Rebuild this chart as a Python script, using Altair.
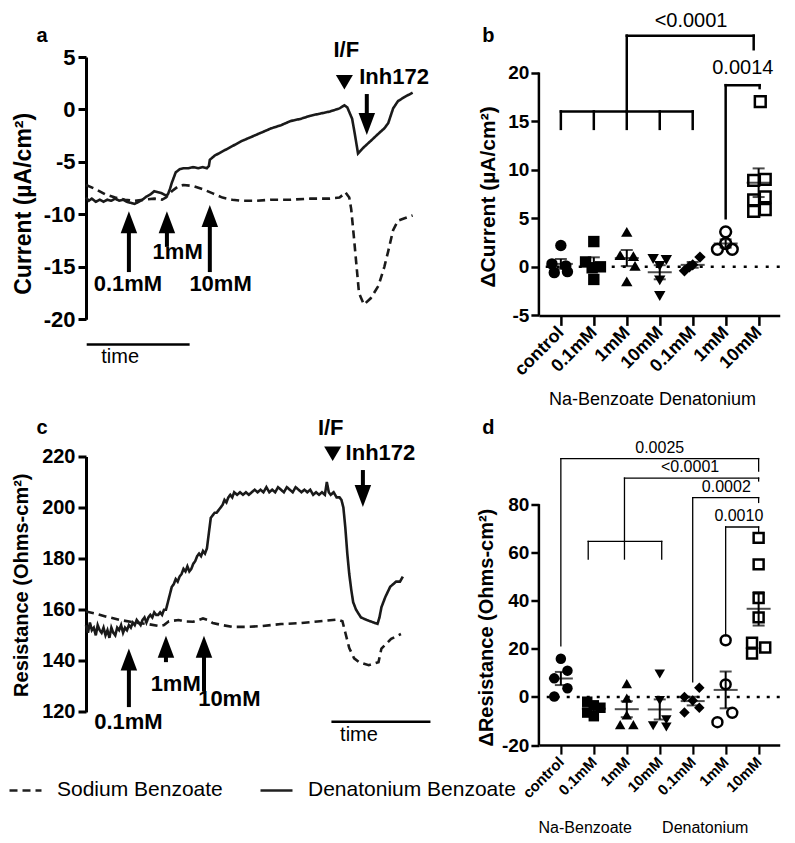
import json
import altair as alt
import pandas as pd

S = 0.975
FONT = "Liberation Sans"

series_names = ["Sodium Benzoate", "Denatonium Benzoate"]

# ---------------- panel a : current traces (time units, µA/cm²)
a_den = [(0,-8.4),(3,-8.7),(6,-8.5),(10,-8.8),(14,-8.6),(18,-8.8),(22,-8.6),(26,-8.7),(30,-8.5),(34,-8.7),
         (38,-8.6),(42,-8.8),(46,-8.9),(50,-9.0),(54,-8.8),(58,-8.6),(62,-8.3),(66,-8.1),(70,-7.8),(74,-7.9),
         (78,-8.0),(82,-8.2),(84,-8.1),(86,-7.6),(88,-7.0),(92,-6.0),(96,-5.7),(100,-5.6),(105,-5.6),(110,-5.5),
         (115,-5.6),(120,-5.5),(124,-5.6),(126,-5.4),(127,-4.8),(132,-4.4),(140,-4.0),(150,-3.5),(160,-3.0),(170,-2.6),
         (180,-2.2),(190,-1.8),(200,-1.5),(210,-1.1),(220,-0.9),(230,-0.6),(240,-0.4),(250,-0.2),(260,0.1),(265,0.4),
         (268,0.2),(273,-0.9),(276,-2.5),(279,-4.2),(285,-3.6),(292,-3.0),(300,-2.3),(306,-1.8),(310,-1.3),(315,0.1),
         (320,0.8),(327,1.2),(335,1.6)]
a_na = [(0,-7.2),(10,-7.6),(20,-8.1),(30,-8.4),(40,-8.6),(50,-8.7),(60,-8.6),(70,-8.5),(78,-8.6),(82,-8.4),
        (88,-7.8),(95,-7.3),(100,-7.2),(110,-7.3),(120,-7.6),(130,-8.0),(140,-8.4),(150,-8.6),(160,-8.7),(175,-8.7),
        (190,-8.6),(210,-8.6),(230,-8.5),(250,-8.5),(260,-8.4),(264,-8.1),(266,-7.9),(270,-8.4),(272,-9.5),(275,-12.4),
        (280,-17.5),(285,-18.6),(292,-18.0),(300,-16.8),(306,-15.0),(310,-13.5),(315,-11.5),(320,-10.6),(326,-10.4),(335,-10.1)]

# ---------------- panel c : resistance traces (time units, Ohms-cm²)
c_den = [(0,154),(2,151),(4,155),(6,152),(8,153),(10,150),(12,154),(14,152),(16,151),(18,153),(20,150),(22,152),
         (24,149),(26,153),(28,151),(30,150),(32,153),(34,152),(36,154),(38,151),(40,153),(42,152),(44,154),(46,153),
         (48,155),(50,154),(52,156),(54,155),(56,154),(58,156),(60,157),(62,155),(64,157),(66,158),(68,157),(70,159),
         (72,158),(74,158),(76,159),(78,158),(80,160),(82,160),(84,163),(86,166),(88,169),(90,170),(92,172),(94,171),
         (96,173),(98,174),(100,176),(102,175),(104,177),(106,175),(108,176),(110,178),(112,179),(114,181),(116,182),
         (118,181),(120,183),(122,182),(124,184),(126,190),(128,196),(130,197),(132,198),(134,198),(136,199),(138,200),
         (140,201),(142,203),(144,202),(146,204),(148,205),(150,204),(152,206),(155,205),(158,206),(161,205),(164,206),
         (167,205),(170,206),(173,207),(176,206),(179,207),(182,206),(185,208),(188,206),(191,207),(194,206),(197,208),
         (200,207),(203,206),(206,208),(209,207),(212,206),(215,208),(218,207),(221,206),(224,207),(227,206),(230,207),
         (233,205),(236,206),(239,205),(242,206),(245,205),(247,210),(249,206),(251,205),(254,206),(257,204),(260,204),
         (262,203),(264,200),(266,192),(268,182),(270,174),(272,168),(274,163),(277,160),(282,157),(288,156),(295,155),
         (299,154.5),(301,157),(303,161),(307,165),(312,169),(318,171),(322,171),(325,173)]
c_na = [(0,159.3),(10,158.5),(20,157.4),(35,156),(50,155),(65,154.3),(75,153.6),(80,154),(85,155.5),(95,156),
        (100,155.5),(110,155.3),(120,156.6),(125,156),(130,154.8),(140,154),(150,153.3),(165,153.3),(180,153.6),
        (200,154.4),(220,154.8),(240,155.5),(258,156.2),(263,155.5),(266,151),(270,145),(275,141),(280,139.5),
        (290,138.3),(300,139.5),(303,144.8),(313,148.6),(323,150.5)]

# ---------------- annotations of the traces
dose_labels = ["0.1mM", "1mM", "10mM"]
a_arrow_x = [44, 83, 127]
a_arrow_tail = [-15.5, -13.1, -15.5]
a_arrow_tip = [-9.7, -9.7, -9.1]
a_label_x = [43, 94, 138]
a_label_y = [-16.6, -13.6, -16.6]
c_arrow_x = [44, 82, 121]
c_arrow_tail = [121.9, 139.5, 128.0]
c_arrow_tip = [144.8, 149.8, 149.8]
c_label_x = [43.5, 92, 147]
c_label_y = [116.2, 131.1, 125.0]

# I/F marker, Inh172 arrow, time bar, panel letter
a_if = {"tri": (265, 2.6), "text": (267, 5.65), "inh_text": (316, 3.1), "inh_x": 288, "inh_tail": 1.47, "inh_tip": -2.43,
        "bar": (2, 105, -22.4), "time": (35, -23.6), "letter": (-45, 7.0)}
c_if = {"tri": (253, 221.1), "text": (251, 231.1), "inh_text": (302, 221.5), "inh_x": 284, "inh_tail": 214.7, "inh_tip": 200.2,
        "bar": (253, 352, 116.2), "time": (280, 110.8), "letter": (-45, 231.1)}

# ---------------- panels b and d : scatter groups
cat_labels = ["control", "0.1mM", "1mM", "10mM", "0.1mM", "1mM", "10mM"]
cat_keys = ["control", "na01", "na1", "na10", "den01", "den1", "den10"]
cat_shapes = ["circle", "square", "triangle-up", "triangle-down", "diamond", "circle", "square"]
cat_filled = [True, True, True, True, True, False, False]

b_values = [[2.2, 0.3, 0.1, -0.6, -0.5],
            [2.6, 0.5, 0.0, -0.1, -1.3],
            [3.6, 1.2, 1.1, 0.1, -1.5],
            [0.8, 0.7, 0.1, -1.4, -3.0],
            [1.0, 0.2, 0.0, -0.4],
            [3.6, 2.4, 1.8, 1.8],
            [17.0, 8.9, 9.0, 6.9, 7.2, 5.7, 5.9]]
b_offsets = [[0, -0.27, 0.15, -0.2, 0.2],
             [0, -0.25, 0.2, -0.05, 0],
             [0, -0.2, 0.2, 0.25, 0],
             [-0.2, 0.2, 0, 0, 0],
             [0.22, 0.0, -0.1, -0.25],
             [0, 0, -0.25, 0.2],
             [0.05, -0.15, 0.2, -0.15, 0.2, -0.15, 0.2]]
d_values = [[15.8, 10.9, 7.7, 3.6, 0.2],
            [-2.0, -3.5, -4.5, -6.5, -8.0],
            [5.5, -0.5, -7.5, -11.5, -11.5],
            [9.5, -1.5, -9.5, -12.0, -12.5],
            [3.8, 0.0, -1.5, -4.5, -6.5],
            [23.5, 5.2, -6.6, -10.5],
            [66, 55, 41, 33, 22.5, 20.5, 18]]
d_offsets = [[0, 0.2, -0.2, 0.2, -0.2],
             [-0.2, 0, 0.2, -0.2, 0],
             [0, 0, 0, -0.2, 0.2],
             [0, 0, 0.2, -0.2, 0.2],
             [0.2, -0.25, 0, 0.2, -0.25],
             [0, 0, 0.2, -0.25],
             [0, 0, 0, 0, -0.2, 0.2, -0.2]]

# significance brackets (segments in category / value units)
b_br_x1 = [1, 1, 2, 3, 4, 5, 3, 3, 6.85, 6, 6, 7.03]
b_br_x2 = [5, 1, 2, 3, 4, 5, 3, 6.85, 6.85, 7.03, 6, 7.03]
b_br_y1 = [16.0, 16.0, 16.0, 16.0, 16.0, 16.0, 16.0, 23.8, 23.8, 18.7, 18.7, 18.7]
b_br_y2 = [16.0, 14.2, 14.2, 14.2, 14.2, 14.2, 23.8, 23.8, 22.4, 18.7, 5.0, 18.4]
b_p_text = ["<0.0001", "0.0014"]
b_p_x = [4.95, 6.52]
b_p_y = [25.3, 20.5]

d_br_x1 = [1, 1, 7, 2.93, 7, 2.93, 1.83, 1.83, 2.93, 4.06, 5, 7, 5, 6, 7, 6]
d_br_x2 = [7, 1, 7, 7, 7, 2.93, 4.06, 1.83, 2.93, 4.06, 7, 7, 5, 7, 7, 6]
d_br_y1 = [98.9, 98.9, 98.9, 90.8, 90.8, 90.8, 64.5, 64.5, 64.5, 64.5, 82.7, 82.7, 82.7, 70.5, 70.5, 70.5]
d_br_y2 = [98.9, 21.2, 93.7, 90.8, 89.6, 64.5, 64.5, 57.2, 57.2, 57.2, 82.7, 80.7, 6.2, 70.5, 68.5, 25.3]
d_p_text = ["0.0025", "<0.0001", "0.0002", "0.0010"]
d_p_x = [4.0, 4.92, 6.02, 6.4]
d_p_y = [103.4, 95.3, 87.2, 75.1]
d_group_text = ["Na-Benzoate", "Denatonium"]
d_group_x = [1.74, 5.38]
d_group_y = [-54.5, -54.5]

# ---------------- scales
xs_trace = alt.Scale(domain=[0, 340], nice=False, zero=False)
ys_a = alt.Scale(domain=[-20, 5], nice=False, zero=False)
ys_c = alt.Scale(domain=[120, 220], nice=False, zero=False)
xs_cat = alt.Scale(domain=[0.334, 7.64], nice=False, zero=False)
ys_b = alt.Scale(domain=[-5, 21.6], nice=False, zero=False)
ys_d = alt.Scale(domain=[-20, 99.76], nice=False, zero=False)

W_TR, W_CAT = 340 * S, 247 * S
H_A, H_B, H_C, H_D = 269 * S, 265 * S, 262 * S, 296 * S

UP_HEAD = "M0,0L0.75,2L-0.75,2Z"
DOWN_HEAD = "M0,0L0.75,-2L-0.75,-2Z"
IF_TRI = "M-1,-0.85L1,-0.85L0,0.85Z"

dash_scale = alt.Scale(domain=series_names, range=[[8, 5], [1, 0]])
legend_spec = alt.Legend(orient="none", legendX=-80 * S, legendY=(781 - 47) * S, direction="horizontal",
                         title=None, labelFontSize=21, labelFont=FONT, labelColor="black", labelLimit=0,
                         symbolType="stroke", symbolSize=1024, symbolStrokeWidth=2.5,
                         symbolStrokeColor="#202020", labelOffset=14, columnPadding=32, padding=0)

label_expr = "'' + datum.value"

ax_a = alt.Axis(values=[5, 0, -5, -10, -15, -20], labelExpr=label_expr, title="Current (µA/cm²)",
                domainWidth=3, tickWidth=3, tickSize=8, labelFontSize=22, labelFontWeight="bold",
                labelPadding=3, titleFontSize=23, titleFontWeight="bold", titleX=-62.4, titleY=146.3,
                titleBaseline="middle", grid=False)
ax_c = alt.Axis(values=[120, 140, 160, 180, 200, 220], labelExpr=label_expr, title="Resistance (Ohms-cm²)",
                domainWidth=3, tickWidth=3, tickSize=8, labelFontSize=20, labelFontWeight="bold",
                labelPadding=3, titleFontSize=20, titleFontWeight="bold", titleX=-64.4, titleY=128.2,
                titleBaseline="middle", grid=False)
ax_b_y = alt.Axis(values=[-5, 0, 5, 10, 15, 20], labelExpr=label_expr, title="ΔCurrent (µA/cm²)", domain=False,
                  tickWidth=2.5, tickSize=8, labelFontSize=19, labelFontWeight="bold", labelPadding=2,
                  titleFontSize=21, titleFontWeight="bold", titleX=-50.7, titleY=139.4,
                  titleBaseline="middle", grid=False)
ax_d_y = alt.Axis(values=[-20, 0, 20, 40, 60, 80], labelExpr=label_expr, title="ΔResistance (Ohms-cm²)",
                  domain=False, tickWidth=2.5, tickSize=8, labelFontSize=19, labelFontWeight="bold",
                  labelPadding=2, titleFontSize=20, titleFontWeight="bold", titleX=-52.7, titleY=170.6,
                  titleBaseline="middle", grid=False)
cat_expr = json.dumps(cat_labels) + "[datum.value - 1]"
ax_b_x = alt.Axis(values=[1, 2, 3, 4, 5, 6, 7], labelExpr=cat_expr, labelAngle=-45, labelAlign="right",
                  labelBaseline="middle", labelFontSize=18, labelFontWeight="bold", labelPadding=4,
                  labelOverlap=False, labelBound=False, labelFlush=False,
                  tickWidth=2.5, tickSize=10, domainWidth=2.5, title="Na-Benzoate Denatonium",
                  titleFontSize=18, titleFontWeight="normal", titleX=113.1, titleY=83.9,
                  titleBaseline="middle", grid=False)
ax_d_x = alt.Axis(values=[1, 2, 3, 4, 5, 6, 7], labelExpr=cat_expr, labelAngle=-45, labelAlign="right",
                  labelBaseline="middle", labelFontSize=15, labelFontWeight="bold", labelPadding=5,
                  labelOverlap=False, labelBound=False, labelFlush=False,
                  tickWidth=2.2, tickSize=9, domainWidth=2.5, title="", grid=False)


class Panel:
    """Scales and axes shared by every layer of one panel."""

    def __init__(self, xscale, yscale, xaxis, yaxis):
        self.xs, self.ys, self.xa, self.ya = xscale, yscale, xaxis, yaxis

    def X(self, field):
        return alt.X(field, type="quantitative", scale=self.xs, axis=self.xa)

    def Y(self, field):
        return alt.Y(field, type="quantitative", scale=self.ys, axis=self.ya)

    def texts(self, xs, ys, labels, size, weight="normal"):
        df = pd.DataFrame({"x": xs, "y": ys, "t": labels})
        return alt.Chart(df).mark_text(fontSize=size, fontWeight=weight, align="center", baseline="middle",
                                       color="black", font=FONT).encode(
            x=self.X("x"), y=self.Y("y"), text="t:N")

    def segments(self, x1, x2, y1, y2, width):
        df = pd.DataFrame({"x": x1, "x2": x2, "y": y1, "y2": y2})
        return alt.Chart(df).mark_rule(strokeWidth=width, color="black", strokeCap="square").encode(
            x=self.X("x"), x2="x2:Q", y=self.Y("y"), y2="y2:Q")

    def arrows(self, xs, tails, tips, up, neck):
        df = pd.DataFrame({"x": xs, "y": tails, "tip": tips})
        sign = "-" if up else "+"
        shaft = alt.Chart(df).transform_calculate(neck=f"datum.tip {sign} {neck}").mark_rule(
            strokeWidth=4, color="black", strokeCap="butt").encode(
            x=self.X("x"), y=self.Y("y"), y2="neck:Q")
        head = alt.Chart(df).mark_point(shape=UP_HEAD if up else DOWN_HEAD, size=484, filled=True,
                                        opacity=1, color="black", strokeWidth=0).encode(
            x=self.X("x"), y=self.Y("tip"))
        return [shaft, head]


def trace_panel(den, na, yscale, yaxis, arrow_x, tails, tips, lab_x, lab_y, info, neck, letter, width, height):
    P = Panel(xs_trace, yscale, None, yaxis)
    rows = [{"x": t, "y": v, "series": series_names[1]} for t, v in den]
    rows += [{"x": t, "y": v, "series": series_names[0]} for t, v in na]
    df = pd.DataFrame(rows)
    lines = alt.Chart(df).mark_line(strokeWidth=2.6, color="#1a1a1a").encode(
        x=P.X("x"), y=P.Y("y"),
        strokeDash=alt.StrokeDash("series:N", scale=dash_scale, legend=legend_spec),
    )
    layers = [lines]
    layers += P.arrows(arrow_x, tails, tips, True, neck)
    layers.append(P.texts(lab_x, lab_y, dose_labels, 22, "bold"))
    tri = pd.DataFrame({"x": [info["tri"][0]], "y": [info["tri"][1]]})
    layers.append(alt.Chart(tri).mark_point(shape=IF_TRI, size=289, filled=True, opacity=1,
                                            color="black", strokeWidth=0).encode(x=P.X("x"), y=P.Y("y")))
    layers.append(P.texts([info["text"][0], info["inh_text"][0]], [info["text"][1], info["inh_text"][1]],
                          ["I/F", "Inh172"], 22, "bold"))
    layers += P.arrows([info["inh_x"]], [info["inh_tail"]], [info["inh_tip"]], False, neck)
    b0, b1, by = info["bar"]
    layers.append(P.segments([b0], [b1], [by], [by], 2.5))
    layers.append(P.texts([info["time"][0]], [info["time"][1]], ["time"], 20))
    layers.append(P.texts([info["letter"][0]], [info["letter"][1]], [letter], 20, "bold"))
    return alt.layer(*layers).properties(width=width, height=height)


def scatter_panel(values, offsets, yscale, yaxis, xaxis, dom, br, ptext, psize, bw, msize, letter,
                  extra=None, width=W_CAT, height=H_B, zero_dash=(3, 8)):
    P = Panel(xs_cat, yscale, xaxis, yaxis)
    rows = []
    for gi, (vals, offs) in enumerate(zip(values, offsets)):
        for v, o in zip(vals, offs):
            rows.append({"g": cat_keys[gi], "k": gi + 1, "x": gi + 1 + o, "y": v})
    df = pd.DataFrame(rows)
    filled_keys = [k for k, f in zip(cat_keys, cat_filled) if f]
    open_keys = [k for k, f in zip(cat_keys, cat_filled) if not f]
    shape = alt.Shape("g:N", scale=alt.Scale(domain=cat_keys, range=cat_shapes), legend=None)
    pts_f = alt.Chart(df).transform_filter(alt.FieldOneOfPredicate(field="g", oneOf=filled_keys)).mark_point(
        filled=True, size=msize, opacity=1, color="black", strokeWidth=0).encode(
        x=P.X("x"), y=P.Y("y"), shape=shape)
    pts_o = alt.Chart(df).transform_filter(alt.FieldOneOfPredicate(field="g", oneOf=open_keys)).mark_point(
        filled=False, size=msize * 0.9, opacity=1, color="black", strokeWidth=2.5).encode(
        x=P.X("x"), y=P.Y("y"), shape=shape)
    base = alt.Chart(df).transform_aggregate(m="mean(y)", se="stderr(y)", groupby=["k"]).transform_calculate(
        lo="datum.m - datum.se", hi="datum.m + datum.se")
    err = base.mark_rule(strokeWidth=2, color="black").encode(x=P.X("k"), y=P.Y("lo"), y2="hi:Q")
    mean = base.mark_tick(orient="horizontal", size=24, thickness=2, color="black").encode(
        x=P.X("k"), y=P.Y("m"))
    caps = base.transform_fold(["lo", "hi"]).mark_tick(orient="horizontal", size=12, thickness=2,
                                                        color="black").encode(x=P.X("k"), y=P.Y("value"))
    zero = alt.Chart(pd.DataFrame({"y": [0]})).mark_rule(strokeDash=list(zero_dash), strokeWidth=2.5,
                                                         color="black").encode(y=P.Y("y"))
    axis_line = alt.Chart(pd.DataFrame({"y": [dom[0]], "y2": [dom[1]]})).mark_rule(
        strokeWidth=2.5, color="black").encode(x=alt.value(0), y=P.Y("y"), y2="y2:Q")
    layers = [pts_f, pts_o, zero, axis_line, err, mean, caps,
              P.segments(*br, bw),
              P.texts(ptext[1], ptext[2], ptext[0], psize),
              P.texts([letter[0]], [letter[1]], [letter[2]], 20, "bold")]
    if extra is not None:
        layers.append(P.texts(*extra))
    return alt.layer(*layers).properties(width=width, height=height)


neck_a = 18 / (H_A / 25)
neck_c = 18 / (H_C / 100)

pa = trace_panel(a_den, a_na, ys_a, ax_a, a_arrow_x, a_arrow_tail, a_arrow_tip, a_label_x, a_label_y,
                 a_if, neck_a, "a", W_TR, H_A)
pc = trace_panel(c_den, c_na, ys_c, ax_c, c_arrow_x, c_arrow_tail, c_arrow_tip, c_label_x, c_label_y,
                 c_if, neck_c, "c", W_TR, H_C)
pb = scatter_panel(b_values, b_offsets, ys_b, ax_b_y, ax_b_x, (-5, 20),
                   (b_br_x1, b_br_x2, b_br_y1, b_br_y2), (b_p_text, b_p_x, b_p_y), 20, 2.5, 130,
                   (-1.2, 23.8, "b"), width=W_CAT, height=H_B, zero_dash=(3, 8))
pdd = scatter_panel(d_values, d_offsets, ys_d, ax_d_y, ax_d_x, (-20, 80),
                    (d_br_x1, d_br_x2, d_br_y1, d_br_y2), (d_p_text, d_p_x, d_p_y), 16, 1.3, 110,
                    (-1.2, 111.5, "d"), extra=(d_group_x, d_group_y, d_group_text, 16),
                    width=W_CAT, height=H_D, zero_dash=(3, 7))

chart = alt.concat(pa, pb, pc, pdd, columns=2,
                   spacing={"row": 140 * S, "column": 124 * S},
                   bounds="flush", align="each").properties(
    padding={"top": 3, "left": 0, "right": 0, "bottom": 0}).configure(
    font=FONT).configure_view(stroke=None).configure_axis(
    grid=False, domainColor="black", tickColor="black", labelColor="black", titleColor="black",
    labelFont=FONT, titleFont=FONT)

chart.save("out.html", embed_options={"renderer": "svg", "actions": False})
